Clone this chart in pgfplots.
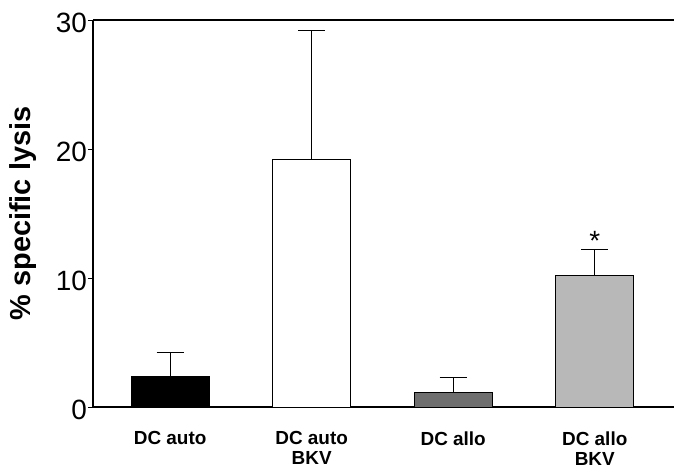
\documentclass[border=0pt]{standalone}
\usepackage{pgfplots}
\pgfplotsset{compat=1.18}
\usepackage{fontspec}
\setmainfont{Liberation Sans}
\definecolor{darkbar}{HTML}{6E6E6E}
\definecolor{lightbar}{HTML}{B8B8B8}
\begin{document}
\begin{tikzpicture}
\begin{axis}[
  scale only axis, width=581bp, height=387bp,
  xmin=-0.545, xmax=3.56, ymin=0, ymax=30,
  axis x line*=bottom, axis y line*=left,
  axis line style={line width=1.2bp, black},
  ytick={0,10,20,30},
  xtick={0,1,2,3},
  xticklabels={DC auto, DC auto\\BKV, DC allo, DC allo\\BKV},
  x tick style={draw=none},
  y tick style={black, line width=0.8bp},
  tick align=outside, major tick length=5bp,
  /pgf/number format/assume math mode=true,
  yticklabel style={font=\fontsize{28}{28}\selectfont, inner xsep=1bp, yshift=-3bp},
  xticklabel style={align=center, font=\bfseries\fontsize{19}{20}\selectfont, yshift=-16bp},
  ylabel={\% specific lysis},
  ylabel style={font=\bfseries\fontsize{29}{30}\selectfont, at={(axis description cs:0,0.5)}, anchor=south, yshift=56bp, inner sep=0pt},
  ybar, bar width=78bp, bar shift=0pt,
  clip=false,
  every axis plot/.append style={line width=1bp, draw=black},
  error bars/error bar style={line width=1bp, black},
  error bars/error mark options={rotate=90, mark size=13.5bp, line width=1bp, black},
]
\addplot[fill=black, error bars/.cd, y dir=plus, y explicit]
  coordinates {(0,2.4) +- (0,1.85)};
\addplot[fill=white, error bars/.cd, y dir=plus, y explicit]
  coordinates {(1,19.2) +- (0,10.0)};
\addplot[fill=darkbar, error bars/.cd, y dir=plus, y explicit]
  coordinates {(2,1.15) +- (0,1.1)};
\addplot[fill=lightbar, error bars/.cd, y dir=plus, y explicit]
  coordinates {(3,10.2) +- (0,2.0)};
\draw[line width=1.2bp, black] (rel axis cs:0,1) -- (rel axis cs:1,1);
\node[font=\fontsize{28}{28}\selectfont, anchor=center, inner sep=0pt] at (axis cs:3,12.9) {*};
\end{axis}
\pgfresetboundingbox
\useasboundingbox ([xshift=-93bp,yshift=-61bp]current axis.south west) rectangle ([yshift=20bp]current axis.north east);
\end{tikzpicture}
\end{document}
